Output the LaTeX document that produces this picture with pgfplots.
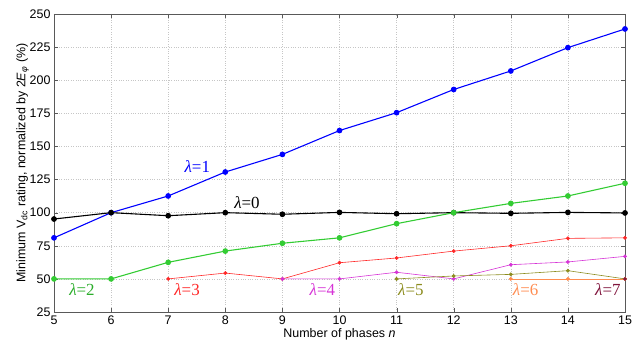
\documentclass[border=0pt]{standalone}
\usepackage{fontspec}
\setmainfont{Liberation Sans}
\newfontfamily\tms{Liberation Serif}
\usepackage{pgfplots}
\pgfplotsset{compat=1.18}
\definecolor{cgreen}{RGB}{51,204,51}
\definecolor{cred}{RGB}{255,40,40}
\definecolor{cmag}{RGB}{214,51,214}
\definecolor{colive}{RGB}{140,140,30}
\definecolor{corange}{RGB}{255,140,80}
\definecolor{cmaroon}{RGB}{128,20,60}
\newcommand{\lam}[1]{{\tms\itshape λ}{\tms =#1}}
\begin{document}
\begin{tikzpicture}
\begin{axis}[
  scale only axis, width=571bp, height=298bp,
  xmin=5, xmax=15, ymin=25, ymax=250,
  xtick={5,...,15}, ytick={25,50,...,250},
  /pgf/number format/assume math mode=true,
  tick label style={font=\fontsize{12.5}{14}\selectfont},
  label style={font=\fontsize{12.5}{14}\selectfont},
  grid=major, grid style={dotted, gray!45, line width=0.5pt},
  axis line style={gray!70!black, line width=0.6pt},
  tick style={gray!70!black},
  tick align=inside, major tick length=4bp,
  xlabel={Number of phases \textit{n}},
  ylabel={Minimum V\textsubscript{dc} rating, normalized by 2\textit{E}\textsubscript{\textit{φ}} (\%)},
  xlabel style={yshift=3bp},
  ylabel style={yshift=-6bp},
  clip=false,
]
\addplot[blue, line width=1.1pt, mark=*, mark size=2.3pt] coordinates {
(5,81) (6,100) (7,112.6) (8,130.7) (9,144) (10,162) (11,175.5) (12,193) (13,207) (14,224.6) (15,238.7)};
\addplot[black, line width=1.1pt, mark=*, mark size=2.3pt] coordinates {
(5,95.2) (6,100) (7,97.7) (8,100) (9,98.8) (10,100.2) (11,99.2) (12,100) (13,99.5) (14,100.2) (15,99.8)};
\addplot[cgreen, line width=1.1pt, mark=*, mark size=2.3pt] coordinates {
(5,50) (6,50) (7,62.5) (8,71) (9,76.9) (10,81) (11,91.7) (12,100) (13,107) (14,112.6) (15,122.2)};
\addplot[cred, line width=0.6pt, mark=*, mark size=1.6pt] coordinates {
(7,50) (8,54.4) (9,50) (10,62.2) (11,65.8) (12,71) (13,75) (14,80.6) (15,81)};
\addplot[cmag, line width=0.6pt, mark=*, mark size=1.6pt] coordinates {
(9,50) (10,50) (11,55) (12,50) (13,60.7) (14,62.8) (15,67)};
\addplot[colive, line width=0.6pt, mark=*, mark size=1.6pt] coordinates {
(11,50) (12,52.2) (13,53.4) (14,56.2) (15,50)};
\addplot[corange, line width=0.6pt, mark=*, mark size=1.6pt] coordinates {
(13,50) (14,50) (15,50)};
\addplot[cmaroon, only marks, mark=*, mark size=1.6pt] coordinates {(15,50)};
\tikzset{lamlab/.style={font=\fontsize{17}{18}\selectfont, inner sep=0pt}}
\node[blue, lamlab] at (axis cs:7.51,135.2) {\lam{1}};
\node[black, lamlab] at (axis cs:8.38,107.3) {\lam{0}};
\node[cgreen!85!black, lamlab] at (axis cs:5.49,41.6) {\lam{2}};
\node[cred, lamlab] at (axis cs:7.33,41.6) {\lam{3}};
\node[cmag, lamlab] at (axis cs:9.70,41.6) {\lam{4}};
\node[colive, lamlab] at (axis cs:11.25,41.6) {\lam{5}};
\node[corange, lamlab] at (axis cs:13.26,41.6) {\lam{6}};
\node[cmaroon, lamlab] at (axis cs:14.70,41.6) {\lam{7}};
\end{axis}
\pgfresetboundingbox
\useasboundingbox ([shift={(-54bp,-34bp)}]current axis.south west) rectangle ([shift={(7bp,14bp)}]current axis.north east);
\end{tikzpicture}
\end{document}
